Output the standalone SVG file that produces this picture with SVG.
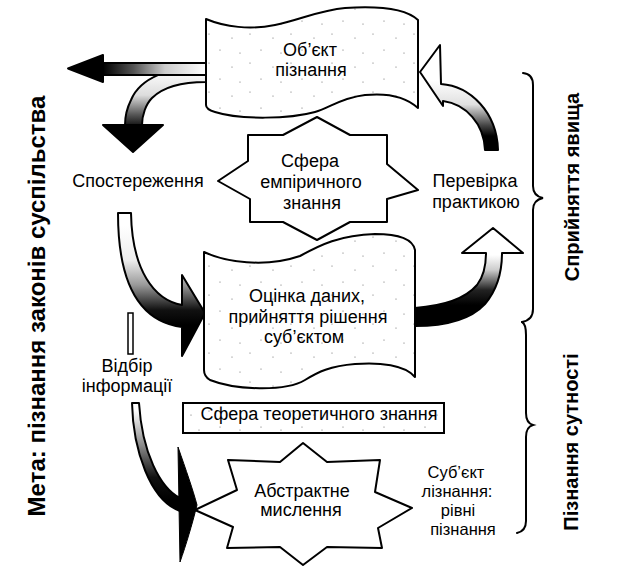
<svg xmlns="http://www.w3.org/2000/svg" width="625" height="567" viewBox="0 0 625 567">
<style>
.t{font-family:"Liberation Sans",Arial,sans-serif;font-size:18px;text-anchor:middle;fill:#000}
.s{font-size:16.5px}
.b{font-family:"Liberation Sans",Arial,sans-serif;font-weight:bold;text-anchor:middle;fill:#000}
.sh{stroke:#000;stroke-width:2;stroke-linejoin:round}
.ln{fill:none;stroke:#000;stroke-width:2;stroke-linecap:round}
</style>
<defs>
<pattern id="dots" width="41" height="29" patternUnits="userSpaceOnUse">
<rect width="41" height="29" fill="#fff"/>
<circle cx="4" cy="5" r="0.6" fill="#666"/>
<circle cx="27" cy="9" r="0.6" fill="#666"/>
<circle cx="15" cy="21" r="0.6" fill="#666"/>
<circle cx="35" cy="24" r="0.6" fill="#666"/>
</pattern>
<linearGradient id="gA" gradientUnits="userSpaceOnUse" x1="103" y1="0" x2="206" y2="0">
<stop offset="0" stop-color="#000"/><stop offset="0.3" stop-color="#555"/><stop offset="0.6" stop-color="#ccc"/><stop offset="1" stop-color="#fff"/>
</linearGradient>
<linearGradient id="gB" gradientUnits="userSpaceOnUse" x1="0" y1="70" x2="0" y2="126">
<stop offset="0" stop-color="#fff"/><stop offset="0.45" stop-color="#ddd"/><stop offset="0.8" stop-color="#555"/><stop offset="1" stop-color="#111"/>
</linearGradient>
<linearGradient id="gC" gradientUnits="userSpaceOnUse" x1="0" y1="80" x2="0" y2="150">
<stop offset="0" stop-color="#fff"/><stop offset="0.35" stop-color="#e0e0e0"/><stop offset="0.65" stop-color="#444"/><stop offset="0.8" stop-color="#000"/>
</linearGradient>
<linearGradient id="gD" gradientUnits="userSpaceOnUse" x1="0" y1="255" x2="0" y2="305">
<stop offset="0" stop-color="#fff"/><stop offset="0.3" stop-color="#ccc"/><stop offset="0.7" stop-color="#222"/><stop offset="1" stop-color="#000"/>
</linearGradient>
<linearGradient id="gE" gradientUnits="userSpaceOnUse" x1="0" y1="225" x2="0" y2="325">
<stop offset="0" stop-color="#fff"/><stop offset="0.35" stop-color="#eee"/><stop offset="0.6" stop-color="#999"/><stop offset="0.85" stop-color="#111"/><stop offset="1" stop-color="#000"/>
</linearGradient>
<linearGradient id="gF" gradientUnits="userSpaceOnUse" x1="0" y1="410" x2="0" y2="500">
<stop offset="0" stop-color="#fff"/><stop offset="0.4" stop-color="#888"/><stop offset="0.75" stop-color="#111"/><stop offset="1" stop-color="#000"/>
</linearGradient>
</defs>
<rect width="625" height="567" fill="#fff"/>

<g id="connectors">
<path class="sh" fill="url(#gB)" d="M206,67 C170,66 140,78 131,100 C126,110 125,118 125,125 L142,125 C142,115 146,104 152,98 C162,88 180,82 206,82 Z"/>
<path class="sh" fill="#000" d="M103,125 L163,125 L133,152 Z"/>
<path class="sh" fill="url(#gA)" d="M206,63 L103,63 L103,75 L206,75 Z"/>
<path class="sh" fill="#000" d="M103,55 L68,68.5 L103,82 Z"/>
<path class="sh" fill="url(#gC)" d="M420,72 L440,45 L441,84 C470,86 497,112 498,150 L485,150 C484,124 466,104 443,101 L443,106 Z"/>
<path class="sh" fill="url(#gD)" d="M415,308 C442,306 465,299 477,285 C484,276 486,265 486,253 L462,253 L493,228 L523,253 L502,253 C502,272 497,290 485,304 C470,320 445,326 415,326 Z"/>
<path class="sh" fill="url(#gE)" d="M118,213 C118,276 135,321 182,327 L182,356 L205,313 L182,275 L182,305 C154,300 132,270 131,213 Z"/>
<rect x="128" y="313" width="5" height="41" fill="#fff" stroke="#000" stroke-width="1.5"/>
<path class="sh" fill="url(#gF)" stroke-width="1.5" d="M132,403 C133,450 150,500 180,511 L180,498 C160,488 142,452 139,403 Z"/>
<path fill="#000" stroke="#000" stroke-width="1" d="M178,447 C186,470 193,490 197,505 C192,525 186,545 180,562 Z"/>
</g>

<g id="object">
<path class="sh" fill="url(#dots)" d="M206,19 C225,27 250,30 275,25 C300,20 320,10 345,8 C375,6 405,8 418,20 L418,108 C405,96 385,93 365,95 C340,98 330,108 315,112 C290,119 240,120 215,112 C208,110 206,108 206,105 Z"/>
<text class="t" x="310" y="56">Об’єкт</text>
<text class="t" x="311" y="76">пізнання</text>
</g>

<g id="empirical">
<polygon class="sh" fill="#fff" points="218,181 248,161 248,135 283,135 317,117 350,135 387,135 387,164 418,190 387,199 387,222 350,222 317,240 283,222 250,222 250,199"/>
<text class="t" x="310" y="167">Сфера</text>
<text class="t" x="311" y="188">емпіричного</text>
<text class="t" x="312" y="209">знання</text>
</g>

<g id="observation">
<text class="t" x="138" y="187">Спостереження</text>
</g>

<g id="check">
<text class="t" x="475" y="187">Перевірка</text>
<text class="t" x="476" y="208">практикою</text>
</g>

<g id="evaluation">
<path class="sh" fill="url(#dots)" d="M204,252 C225,262 265,268 300,256 C320,245 340,235 375,234 C400,234 413,240 415,250 L415,377 C405,365 380,362 355,364 C330,366 318,372 305,380 C285,392 235,390 210,380 C205,377 204,374 204,370 Z"/>
<text class="t" x="307" y="302">Оцінка даних,</text>
<text class="t" x="308" y="323">прийняття рішення</text>
<text class="t" x="304" y="343">суб’єктом</text>
</g>

<g id="selection">
<text class="t" x="127" y="372">Відбір</text>
<text class="t" x="127" y="392">інформації</text>
</g>

<g id="theoretical">
<rect x="183" y="403" width="261" height="30" fill="url(#dots)" stroke="#000" stroke-width="2"/>
<text class="t" x="319" y="420">Сфера теоретичного знання</text>
</g>

<g id="abstract">
<polygon class="sh" fill="#fff" points="303,443 327,462 380,460 375,492 412,508 378,528 382,548 327,547 303,565 280,547 227,548 233,527 195,510 237,490 228,460 280,462"/>
<text class="t" x="302" y="497">Абстрактне</text>
<text class="t" x="301" y="516">мислення</text>
</g>

<g id="subject">
<text class="t s" x="456" y="478">Суб’єкт</text>
<text class="t s" x="457" y="497">лізнання:</text>
<text class="t s" x="458" y="516">рівні</text>
<text class="t s" x="463" y="535">пізнання</text>
</g>

<g id="braces">
<path class="ln" d="M523,73 Q533,74 533,85 L533,186 Q533,196 543,198 Q533,200 533,210 L533,309 Q533,320 522,322"/>
<path class="ln" d="M522,322 Q526,324 526,335 L526,413 Q526,423 533,425 Q526,427 526,437 L526,521 Q526,531 517,533"/>
</g>

<g id="labels">
<text class="b" font-size="24" transform="translate(45,306) rotate(-90)">Мета: пізнання законів суспільства</text>
<text class="b" font-size="20" transform="translate(579,187) rotate(-90)">Сприйняття явища</text>
<text class="b" font-size="20" transform="translate(578,442) rotate(-90)">Пізнання сутності</text>
</g>
</svg>
